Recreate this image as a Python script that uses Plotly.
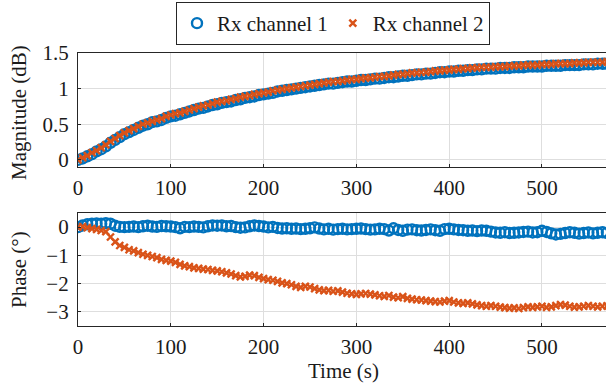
import plotly.graph_objects as go

time_s = list(range(0, 575, 5))

mag_ch1 = [0.00,0.02,0.05,0.08,0.12,0.15,0.19,0.24,0.28,0.32,
           0.36,0.39,0.42,0.45,0.48,0.50,0.53,0.54,0.56,0.59,
           0.61,0.62,0.64,0.66,0.68,0.70,0.72,0.73,0.75,0.77,
           0.78,0.80,0.81,0.82,0.84,0.85,0.87,0.88,0.89,0.91,
           0.92,0.93,0.94,0.96,0.97,0.98,0.99,1.00,1.01,1.02,
           1.03,1.04,1.05,1.06,1.07,1.07,1.08,1.09,1.10,1.10,
           1.11,1.12,1.12,1.13,1.14,1.14,1.15,1.16,1.16,1.17,
           1.18,1.18,1.19,1.20,1.20,1.21,1.21,1.22,1.23,1.23,
           1.24,1.24,1.25,1.25,1.26,1.26,1.27,1.27,1.28,1.28,
           1.28,1.29,1.29,1.29,1.30,1.30,1.30,1.31,1.31,1.31,
           1.31,1.32,1.32,1.32,1.32,1.33,1.33,1.33,1.33,1.34,
           1.34,1.34,1.35,1.35,1.35]

mag_ch2 = [0.00,0.03,0.06,0.10,0.13,0.17,0.21,0.26,0.30,0.34,
           0.38,0.41,0.44,0.47,0.50,0.52,0.54,0.56,0.58,0.61,
           0.63,0.65,0.66,0.68,0.70,0.72,0.74,0.76,0.77,0.79,
           0.81,0.82,0.83,0.85,0.86,0.88,0.89,0.90,0.92,0.93,
           0.94,0.95,0.97,0.98,0.99,1.00,1.01,1.02,1.03,1.04,
           1.05,1.06,1.07,1.08,1.09,1.10,1.10,1.11,1.12,1.13,
           1.13,1.14,1.15,1.15,1.16,1.17,1.17,1.18,1.19,1.20,
           1.20,1.21,1.22,1.22,1.23,1.23,1.24,1.25,1.25,1.26,
           1.26,1.27,1.27,1.28,1.28,1.29,1.29,1.30,1.30,1.30,
           1.31,1.31,1.31,1.32,1.32,1.32,1.33,1.33,1.33,1.33,
           1.34,1.34,1.34,1.35,1.35,1.35,1.35,1.36,1.36,1.36,
           1.37,1.37,1.37,1.37,1.38]

phase_ch1 = [0.00,0.06,0.10,0.12,0.13,0.12,0.14,0.12,0.05,0.01,
             0.00,0.01,0.02,0.00,0.03,0.05,0.02,0.01,0.04,0.03,
             0.02,0.00,-0.04,0.01,0.00,0.02,0.01,-0.01,0.03,0.06,
             0.05,0.06,0.03,0.04,0.00,-0.02,-0.01,0.03,0.06,0.04,
             0.02,-0.01,0.01,-0.03,-0.05,-0.04,-0.06,-0.05,-0.07,-0.06,
             -0.04,-0.01,-0.05,-0.08,-0.06,-0.09,-0.07,-0.06,-0.08,-0.07,
             -0.06,-0.05,-0.07,-0.09,-0.08,-0.06,-0.07,-0.12,-0.04,-0.10,
             -0.13,-0.09,-0.08,-0.11,-0.12,-0.10,-0.08,-0.11,-0.13,-0.07,
             -0.06,-0.08,-0.10,-0.11,-0.13,-0.12,-0.14,-0.12,-0.13,-0.16,
             -0.19,-0.20,-0.18,-0.21,-0.20,-0.19,-0.17,-0.16,-0.19,-0.18,
             -0.13,-0.17,-0.22,-0.26,-0.24,-0.21,-0.18,-0.20,-0.23,-0.21,
             -0.19,-0.22,-0.20,-0.18,-0.20]

phase_ch2 = [0.00,0.02,-0.02,-0.05,-0.08,-0.12,-0.16,-0.35,-0.52,-0.65,
             -0.72,-0.80,-0.84,-0.90,-0.96,-1.00,-1.04,-1.08,-1.14,-1.18,
             -1.20,-1.25,-1.32,-1.37,-1.40,-1.44,-1.46,-1.49,-1.50,-1.53,
             -1.55,-1.58,-1.62,-1.66,-1.72,-1.76,-1.74,-1.70,-1.72,-1.78,
             -1.82,-1.86,-1.88,-1.92,-1.97,-2.00,-2.04,-2.10,-2.13,-2.10,
             -2.12,-2.18,-2.22,-2.25,-2.24,-2.27,-2.26,-2.30,-2.34,-2.36,
             -2.38,-2.36,-2.35,-2.37,-2.40,-2.43,-2.45,-2.42,-2.48,-2.50,
             -2.46,-2.52,-2.55,-2.57,-2.58,-2.60,-2.62,-2.64,-2.65,-2.62,
             -2.60,-2.65,-2.68,-2.70,-2.68,-2.72,-2.75,-2.78,-2.80,-2.78,
             -2.80,-2.83,-2.85,-2.87,-2.86,-2.88,-2.85,-2.82,-2.84,-2.82,
             -2.80,-2.84,-2.82,-2.78,-2.74,-2.76,-2.80,-2.83,-2.82,-2.80,
             -2.78,-2.80,-2.82,-2.80,-2.79]

series_names = ["Rx channel 1", "Rx channel 2"]
x_ticks = [0, 100, 200, 300, 400, 500]
mag_ticks = [0, 0.5, 1, 1.5]
mag_tick_text = ["0", "0.5", "1", "1.5"]
phase_ticks = [0, -1, -2, -3]
phase_tick_text = ["0", "\u22121", "\u22122", "\u22123"]

BLUE = "#0072BD"
ORANGE = "#D95319"
FONT = "Liberation Serif, Times New Roman, serif"
FS = 21
TXT = "#1a1a1a"

W, H = 606.0, 389.0
L_M = 78

def px_x(px):
    return (px - L_M) / (W - L_M)

def px_y(py):
    return 1 - py / H

def dom(top_px, bot_px):
    return [px_y(bot_px), px_y(top_px)]

blue_marker = dict(symbol="circle-open", size=10, color=BLUE, line=dict(width=2.4, color=BLUE))
orange_marker = dict(symbol="x-thin", size=7, color=ORANGE, line=dict(width=2.4, color=ORANGE))

fig = go.Figure()
fig.add_trace(go.Scatter(x=time_s, y=mag_ch1, mode="markers", name=series_names[0],
                         marker=blue_marker, xaxis="x", yaxis="y"))
fig.add_trace(go.Scatter(x=time_s, y=mag_ch2, mode="markers", name=series_names[1],
                         marker=orange_marker, xaxis="x", yaxis="y"))
fig.add_trace(go.Scatter(x=time_s, y=phase_ch1, mode="markers", showlegend=False,
                         marker=blue_marker, xaxis="x2", yaxis="y2"))
fig.add_trace(go.Scatter(x=time_s, y=phase_ch2, mode="markers", showlegend=False,
                         marker=orange_marker, xaxis="x2", yaxis="y2"))

common_x = dict(range=[0, 569], tickvals=x_ticks, showgrid=True, gridcolor="#dedede", gridwidth=1,
                zeroline=False, showline=True, linecolor="#262626", linewidth=1.3, mirror=True,
                ticks="inside", ticklen=3, tickcolor="#262626",
                tickfont=dict(family=FONT, size=FS, color=TXT), ticklabelstandoff=2)
common_y = dict(showgrid=True, gridcolor="#dedede", gridwidth=1, zeroline=False,
                showline=True, linecolor="#262626", linewidth=1.3, mirror=False,
                ticks="inside", ticklen=3, tickcolor="#262626",
                tickfont=dict(family=FONT, size=FS, color=TXT), ticklabelstandoff=4)

ann_font = dict(family=FONT, size=FS, color=TXT)

fig.update_layout(
    width=606, height=389,
    margin=dict(l=L_M, r=0, t=0, b=0, autoexpand=False),
    paper_bgcolor="white", plot_bgcolor="white",
    font=dict(family=FONT, size=FS, color=TXT),
    xaxis=dict(domain=[0, 1], anchor="y", **common_x),
    yaxis=dict(domain=dom(53, 167), anchor="x", range=[-0.1, 1.5], tickvals=mag_ticks,
               ticktext=mag_tick_text, **common_y),
    xaxis2=dict(domain=[0, 1], anchor="y2", **common_x),
    yaxis2=dict(domain=dom(213, 326), anchor="x2", range=[-3.5, 0.5], tickvals=phase_ticks,
                ticktext=phase_tick_text, **common_y),
    legend=dict(orientation="h", x=px_x(333), xanchor="center", y=px_y(2), yanchor="top",
                bordercolor="#262626", borderwidth=1, bgcolor="white",
                font=dict(family=FONT, size=FS, color=TXT),
                itemwidth=30, tracegroupgap=0),
    showlegend=True,
    annotations=[
        dict(text="Magnitude (dB)", x=px_x(19), y=px_y(113), xref="paper", yref="paper",
             xanchor="center", yanchor="middle",
             showarrow=False, textangle=-90, font=ann_font),
        dict(text="Phase (\u00b0)", x=px_x(19), y=px_y(270), xref="paper", yref="paper",
             xanchor="center", yanchor="middle",
             showarrow=False, textangle=-90, font=ann_font),
        dict(text="Time (s)", x=px_x(343), y=px_y(371), xref="paper", yref="paper",
             xanchor="center", yanchor="middle",
             showarrow=False, font=ann_font),
    ],
)

fig.write_html("out.html")
